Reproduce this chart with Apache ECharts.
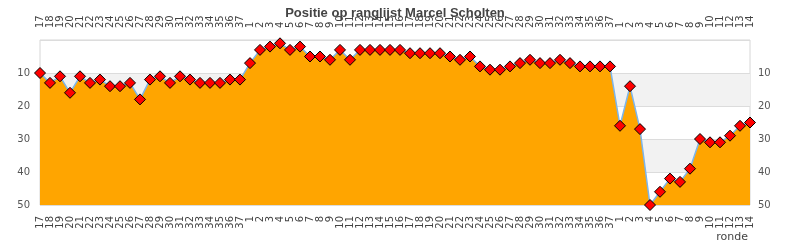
<!DOCTYPE html>
<html>
<head>
<meta charset="utf-8">
<script src="https://cdn.jsdelivr.net/npm/echarts@6/dist/echarts.min.js"></script>
<style>html,body{margin:0;padding:0;background:#fff}#c{width:790px;height:250px}</style>
</head>
<body>
<div id="c"></div>
<script>
var titleText = 'Positie op ranglijst Marcel Scholten';
var axisName = 'ronde';
var season1Rounds = ['17','18','19','20','21','22','23','24','25','26','27','28','29','30','31','32','33','34','35','36','37'];
var season2Rounds = ['1','2','3','4','5','6','7','8','9','10','11','12','13','14','15','16','17','18','19','20','21','22','23','24','25','26','27','28','29','30','31','32','33','34','35','36','37'];
var season3Rounds = ['1','2','3','4','5','6','7','8','9','10','11','12','13','14'];
var season1Pos = [10,13,11,16,11,13,12,14,14,13,18,12,11,13,11,12,13,13,13,12,12];
var season2Pos = [7,3,2,1,3,2,5,5,6,3,6,3,3,3,3,3,4,4,4,4,5,6,5,8,9,9,8,7,6,7,7,6,7,8,8,8,8];
var season3Pos = [26,14,27,50,46,42,43,39,30,31,31,29,26,25];
var yMin = 0, yMax = 50, yStep = 10;

var categories = season1Rounds.concat(season2Rounds, season3Rounds);
var positions = season1Pos.concat(season2Pos, season3Pos);

var chart = echarts.init(document.getElementById('c'), null, {renderer: 'canvas'});
var font = 'DejaVu Sans';
function xAx(pos, margin) {
  return {
    type: 'category', position: pos, data: categories, boundaryGap: false,
    axisLine: {show: false}, axisTick: {show: false}, splitLine: {show: false},
    axisLabel: {rotate: 90, interval: 0, fontSize: 10, fontFamily: font, color: '#444', margin: margin}
  };
}
function yAx(pos) {
  return {
    type: 'value', position: pos, inverse: true, min: yMin, max: yMax, interval: yStep,
    axisLine: {show: false}, axisTick: {show: false},
    splitLine: {show: true, lineStyle: {color: '#dcdcdc', width: 1}},
    splitArea: {show: pos === 'left', areaStyle: {color: ['rgba(255,255,255,0)', '#f2f2f2']}},
    axisLabel: {fontSize: 10, fontFamily: font, color: '#555', margin: pos === 'left' ? 10 : 8,
      formatter: function (v) { return v === 0 ? '' : v; }}
  };
}
chart.setOption({
  animation: false,
  title: {text: titleText, left: 'center', top: 2,
    textStyle: {fontFamily: 'Liberation Sans', fontWeight: 'bold', fontSize: 13, color: '#444'}},
  grid: {left: 40, right: 40, top: 40, bottom: 45, show: true, borderColor: '#d6d6d6', borderWidth: 1, backgroundColor: 'transparent'},
  xAxis: [xAx('bottom', 11), xAx('top', 12)],
  yAxis: [yAx('left'), yAx('right')],
  graphic: [{type: 'text', right: 42, top: 232,
    style: {text: axisName, fontFamily: font, fontSize: 11, fill: '#444'}}],
  series: [{
    type: 'line', data: positions, xAxisIndex: 0, yAxisIndex: 0,
    symbol: 'diamond', symbolSize: 11,
    itemStyle: {color: '#ff0000', borderColor: '#000', borderWidth: 1},
    lineStyle: {color: '#7cb5ec', width: 1.5},
    areaStyle: {color: '#ffa500', opacity: 1, origin: 'end'}
  }]
});
</script>
</body>
</html>
